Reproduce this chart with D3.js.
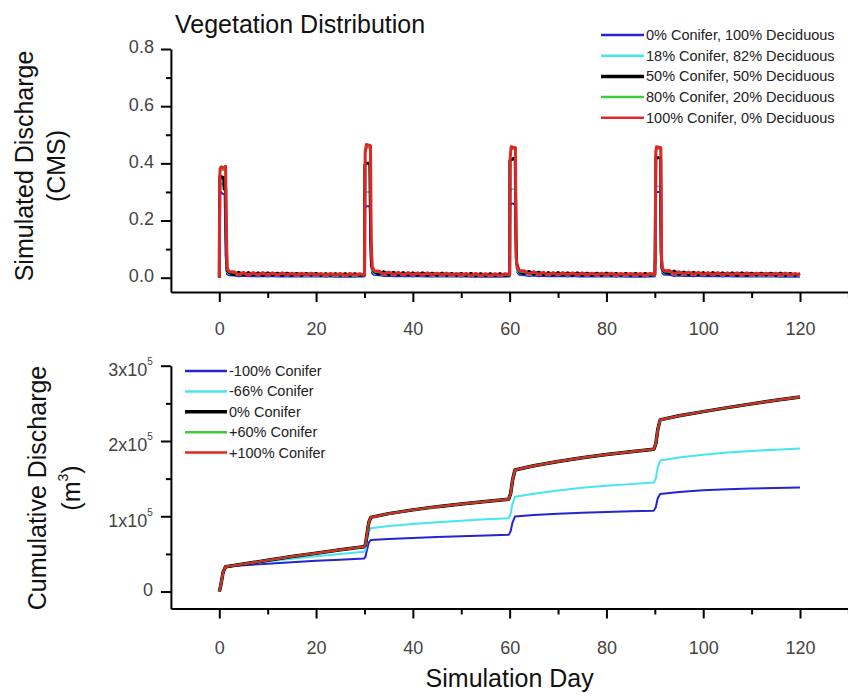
<!DOCTYPE html>
<html><head><meta charset="utf-8">
<script src="https://cdn.jsdelivr.net/npm/d3@7/dist/d3.min.js"></script>
<style>
html,body{margin:0;padding:0;background:#fff;}
svg{display:block;font-family:"Liberation Sans",Arial,Helvetica,sans-serif;}
</style></head>
<body><svg id="c" width="848" height="696"></svg>
<script>
// ---------- DATA ----------
const title = "Vegetation Distribution";
const topLegend = ["0% Conifer, 100% Deciduous","18% Conifer, 82% Deciduous","50% Conifer, 50% Deciduous","80% Conifer, 20% Deciduous","100% Conifer, 0% Deciduous"];
const bottomLegend = ["-100% Conifer","-66% Conifer","0% Conifer","+60% Conifer","+100% Conifer"];
const seriesColors = ["#2424d0","#44e6f0","#000000","#3ccc3c","#e02626"];
const xMajorTicks = [0,20,40,60,80,100,120];
const xMinorTicks = [10,30,50,70,90,110,130];
const topYMajor = [0,0.2,0.4,0.6,0.8];
const topYMinor = [0.1,0.3,0.5,0.7];
const botYMajor = [0,100000,200000,300000];
const botYMinor = [50000,150000,250000];
const botYLabels = ["0","1x10","2x10","3x10"];

// daily base flow, L/s (null = event day, given in event lists)
const blueBase = [null,null,null,
 8,5,7,5,6,4,6,4,6,4,5,4,5,4,5,4,5,4,5,3,5,3,4,3,4,3,4,
 null,null,null,
 9,6,7,5,6,5,6,4,6,4,5,4,5,4,5,4,5,3,5,3,4,3,4,3,4,3,4,
 null,null,null,
 9,6,8,5,7,5,6,5,6,4,6,4,5,4,5,4,5,4,5,3,5,3,4,3,4,3,4,
 null,null,null,
 10,6,8,6,7,5,7,5,6,5,6,4,6,4,5,4,5,4,5,4,5,4,4,3,4,3,4,3];
const cyanBase = [null,null,null,
 13,9,12,9,11,8,11,8,10,8,10,8,10,7,9,7,9,7,9,7,9,7,8,7,8,7,8,
 null,null,null,
 14,10,12,9,11,9,11,8,10,8,10,8,9,8,9,7,9,7,9,7,8,7,8,7,8,7,8,
 null,null,null,
 15,10,13,9,12,9,11,9,11,8,10,8,10,8,10,8,9,8,9,7,9,7,9,7,9,7,8,
 null,null,null,
 15,11,13,10,12,9,12,9,11,9,11,8,10,8,10,8,10,8,9,8,9,8,9,7,9,7,9,7];
const blackBase = [null,null,null,
 11,19,10,18,10,17,9,17,10,16,9,16,9,15,8,15,9,15,8,14,8,14,8,14,7,14,8,
 null,null,null,
 13,21,11,19,10,18,10,17,9,17,9,16,8,16,8,15,8,15,7,15,7,14,7,14,7,14,7,
 null,null,null,
 14,22,12,20,11,18,10,18,10,17,9,17,9,16,9,16,8,16,8,15,8,15,8,15,7,15,8,
 null,null,null,
 14,23,12,20,11,19,11,18,10,18,10,17,10,17,9,17,9,16,9,16,9,16,8,16,8,15,8,14];
const greenBase = [null,null,null,
 17,12,16,11,16,11,15,11,15,11,14,11,14,10,13,10,13,10,13,10,12,10,12,9,12,9,12,
 null,null,null,
 19,14,17,13,16,12,16,11,15,11,14,11,14,10,13,10,13,10,12,9,12,9,12,9,12,9,11,
 null,null,null,
 20,15,18,13,17,12,16,12,15,12,15,11,14,11,14,10,14,10,13,10,13,10,13,9,13,9,12,
 null,null,null,
 21,15,18,14,17,13,17,12,16,12,15,12,15,11,15,11,14,11,14,11,14,10,13,10,13,10,13,10];
const redBase = [null,null,null,
 21,10,19,9,18,10,18,9,17,10,17,9,16,8,16,9,16,8,15,8,15,8,15,7,15,8,14,
 null,null,null,
 23,12,20,11,19,10,18,10,17,9,17,9,16,8,16,8,15,8,15,7,15,7,14,7,14,7,14,
 null,null,null,
 24,13,21,11,19,11,18,10,18,10,17,9,17,9,16,9,16,8,16,8,15,8,15,8,15,7,15,
 null,null,null,
 25,13,21,12,20,11,19,11,18,10,18,10,17,10,17,9,17,9,16,9,16,9,16,8,16,8,15,8];

// storm events [day, L/s]
const blueEvents = [[0,0],[0.05,140],[0.15,300],[1.1,290],[1.3,80],[1.6,12],[2,9],
 [30,4],[30.1,240],[30.3,250],[31.1,250],[31.3,60],[31.6,15],[32,10],
 [60,4],[60.1,250],[60.3,260],[60.6,260],[61.1,255],[61.3,70],[61.6,18],[62,10],
 [90,4],[90.1,290],[90.3,300],[91.1,300],[91.3,50],[91.6,15],[92,10]];
const cyanEvents = [[0,0],[0.05,150],[0.15,330],[1.2,320],[1.35,100],[1.6,20],[2,14],
 [30,8],[30.1,290],[30.3,300],[31.1,300],[31.3,80],[31.6,25],[32,15],
 [60,8],[60.1,300],[60.3,310],[61.1,310],[61.3,60],[61.6,22],[62,16],
 [90,9],[90.1,310],[90.3,320],[91.1,320],[91.3,55],[91.6,22],[92,16]];
const blackEvents = [[0,0],[0.03,160],[0.12,355],[0.9,350],[1.0,310],[1.3,318],[1.4,150],[1.6,25],[2,18],
 [30,10],[30.03,200],[30.08,395],[30.3,400],[31.1,400],[31.3,130],[31.5,40],[32,20],
 [60,10],[60.05,410],[61.15,420],[61.3,160],[61.45,50],[62,20],
 [90,12],[90.05,60],[90.2,420],[91.2,420],[91.3,90],[91.5,30],[92,20]];
const greenEvents = [[0,0],[0.05,160],[0.15,375],[1.3,378],[1.45,160],[1.6,30],[2,20],
 [30,10],[30.1,430],[30.4,455],[31.2,455],[31.35,110],[31.6,35],[32,22],
 [60,10],[60.1,430],[60.3,450],[61.2,450],[61.35,65],[61.6,30],[62,22],
 [90,11],[90.15,430],[90.35,450],[91.2,450],[91.35,60],[91.6,30],[92,22]];
const redEvents = [[0,0],[0.05,160],[0.15,380],[0.4,388],[0.8,384],[1.3,390],[1.45,200],[1.6,35],[2,22],
 [30,10],[30.05,60],[30.15,440],[30.4,466],[31.25,462],[31.4,120],[31.6,40],[32,24],
 [60,11],[60.05,120],[60.12,420],[60.3,458],[61.2,455],[61.35,70],[61.6,32],[62,24],
 [90,12],[90.05,50],[90.12,60],[90.2,440],[90.35,458],[91.25,455],[91.4,60],[91.6,32],[92,24]];

// cumulative discharge [day, m3]
const blueCum = [[0,0],[0.3,8000],[0.8,26000],[1.3,33000],[3,33900],[5,35000],[10,37000],[15,39000],[20,40800],[25,42400],[29.9,44000],[30.2,46000],[30.5,55000],[30.9,65000],[31.3,68500],[35,69800],[40,71200],[45,72400],[50,73400],[55,74400],[59.8,75300],[60.2,80000],[60.6,92000],[61.1,99600],[65,101800],[70,103500],[75,104800],[80,105800],[85,106700],[89.8,107500],[90.2,112000],[90.6,124000],[91.1,129700],[95,132300],[100,134600],[105,136000],[110,136900],[115,137700],[120,138300]];
const cyanCum = [[0,0],[0.3,8000],[0.8,26000],[1.3,33000],[3,34400],[5,36000],[10,39800],[15,43500],[20,46800],[25,50000],[29.9,53000],[30.2,55000],[30.5,66000],[30.9,79000],[31.3,84000],[35,87000],[40,89800],[45,92200],[50,94200],[55,95900],[59.8,97400],[60.2,103000],[60.6,117000],[61.1,126000],[65,130000],[70,134300],[75,137800],[80,140500],[85,142700],[89.8,144700],[90.2,150000],[90.6,165000],[91.1,174000],[95,178000],[100,181800],[105,184600],[110,186800],[115,188500],[120,190000]];
const blackCum = [[0,0],[0.3,8000],[0.8,26000],[1.3,33000],[3,34500],[5,36500],[10,41500],[15,46500],[20,51000],[25,55500],[29.9,59500],[30.2,62000],[30.5,75000],[30.9,92000],[31.3,98500],[35,103500],[40,108500],[45,112800],[50,116300],[55,119600],[59.8,122700],[60.2,130000],[60.6,148000],[61.1,161500],[65,167000],[70,172800],[75,177800],[80,182000],[85,185600],[89.8,189000],[90.2,196000],[90.6,215000],[91.1,228000],[95,233500],[100,239000],[105,244300],[110,249300],[115,254000],[120,258500]];
const greenCum = [[0,0],[0.3,8000],[0.8,26000],[1.3,33000],[3,34500],[5,36500],[10,41500],[15,46500],[20,51000],[25,55500],[29.9,59500],[30.2,62000],[30.5,75000],[30.9,92000],[31.3,98500],[35,103500],[40,108500],[45,112800],[50,116300],[55,119600],[59.8,122700],[60.2,130000],[60.6,148000],[61.1,161500],[65,167000],[70,172800],[75,177800],[80,182000],[85,185600],[89.8,189000],[90.2,196000],[90.6,215000],[91.1,228000],[95,233500],[100,239000],[105,244300],[110,249300],[115,254000],[120,258500]];
const redCum = [[0,0],[0.3,8000],[0.8,26000],[1.3,33000],[3,34500],[5,36500],[10,41500],[15,46500],[20,51000],[25,55500],[29.9,59500],[30.2,62000],[30.5,75000],[30.9,92000],[31.3,98500],[35,103500],[40,108500],[45,112800],[50,116300],[55,119600],[59.8,122700],[60.2,130000],[60.6,148000],[61.1,161500],[65,167000],[70,172800],[75,177800],[80,182000],[85,185600],[89.8,189000],[90.2,196000],[90.6,215000],[91.1,228000],[95,233500],[100,239000],[105,244300],[110,249300],[115,254000],[120,258500]];

// ---------- DRAW ----------
const svg = d3.select("#c");
const FONT = '"Liberation Sans",Arial,Helvetica,sans-serif';
const x = d3.scaleLinear().domain([-10,130]).range([170.9,848.4]);
const yTop = d3.scaleLinear().domain([-0.05,0.8]).range([292,49]);
const yBot = d3.scaleLinear().domain([-22500,300000]).range([608.5,365.7]);

function flowSeries(base, events){
  const pts = base.map((v,i)=>[i,v]).filter(d=>d[1]!==null).concat(events);
  pts.sort((a,b)=>a[0]-b[0]);
  return pts.map(d=>[d[0], d[1]/1000]);
}
const flows = [flowSeries(blueBase,blueEvents),flowSeries(cyanBase,cyanEvents),flowSeries(blackBase,blackEvents),flowSeries(greenBase,greenEvents),flowSeries(redBase,redEvents)];
const cums = [blueCum,cyanCum,blackCum,greenCum,redCum];

function drawAxes(yScale, yMajor, yMinor, axisY, isTop){
  const g = svg.append("g");
  const xa = g.append("g").attr("transform",`translate(0,${axisY})`)
    .call(d3.axisBottom(x).tickValues(xMajorTicks).tickSize(10).tickSizeOuter(0).tickPadding(isTop?20:23));
  xa.select(".domain").attr("stroke","#000").attr("stroke-width",2);
  xa.selectAll(".tick line").attr("stroke","#000").attr("stroke-width",2);
  xa.selectAll(".tick text").attr("font-size",18).attr("font-family",FONT).attr("fill","#444");
  const xm = g.append("g").attr("transform",`translate(0,${axisY})`)
    .call(d3.axisBottom(x).tickValues(xMinorTicks).tickSize(6).tickSizeOuter(0).tickFormat(""));
  xm.select(".domain").remove();
  xm.selectAll(".tick line").attr("stroke","#000").attr("stroke-width",2);
  const ya = g.append("g").attr("transform",`translate(${x(-10)},0)`)
    .call(d3.axisLeft(yScale).tickValues(yMajor).tickSize(10).tickSizeOuter(0)
      .tickFormat(isTop ? d3.format(".1f") : ()=>""));
  ya.select(".domain").attr("stroke","#000").attr("stroke-width",2);
  ya.selectAll(".tick line").attr("stroke","#000").attr("stroke-width",2);
  ya.selectAll(".tick text").attr("font-size",18).attr("font-family",FONT).attr("fill","#444")
    .attr("x",-17).attr("dy","0.22em");
  const ym = g.append("g").attr("transform",`translate(${x(-10)},0)`)
    .call(d3.axisLeft(yScale).tickValues(yMinor).tickSize(5).tickSizeOuter(0).tickFormat(""));
  ym.select(".domain").remove();
  ym.selectAll(".tick line").attr("stroke","#000").attr("stroke-width",2);
  if(!isTop){
    const t = g.append("g").selectAll("text").data(yMajor).join("text")
      .attr("font-family",FONT).attr("fill","#444").attr("text-anchor","end")
      .attr("x", x(-10)-18)
      .attr("y", (d)=> d===0 ? yBot(d)+4.5 : yBot(d)+10.5)
      .attr("font-size",18);
    t.append("tspan").text((d,i)=>botYLabels[i]);
    t.filter(d=>d!==0).append("tspan").attr("font-size",10).attr("dy",-11).text("5");
  }
}

drawAxes(yTop, topYMajor, topYMinor, 292, true);
drawAxes(yBot, botYMajor, botYMinor, 608.5, false);

const lineTop = d3.line().x(d=>x(d[0])).y(d=>yTop(d[1]));
svg.append("g").selectAll("path").data(flows).join("path")
  .attr("d",lineTop).attr("fill","none")
  .attr("stroke",(d,i)=>seriesColors[i])
  .attr("stroke-width",(d,i)=>[2,2,3,2,3][i])
  .attr("stroke-linejoin","round");

const lineBot = d3.line().x(d=>x(d[0])).y(d=>yBot(d[1]));
svg.append("g").selectAll("path").data(cums).join("path")
  .attr("d",lineBot).attr("fill","none")
  .attr("stroke",(d,i)=>seriesColors[i])
  .attr("stroke-width",(d,i)=>[2,2,3.5,2,2][i])
  .attr("stroke-linejoin","round");

function legend(labels, x0, x1, tx, y0, dy){
  const g = svg.append("g");
  labels.forEach((lab,i)=>{
    const yy = y0 + i*dy;
    g.append("line").attr("x1",x0).attr("x2",x1).attr("y1",yy).attr("y2",yy)
      .attr("stroke",seriesColors[i]).attr("stroke-width",i===2?3.5:2.5);
    g.append("text").attr("x",tx).attr("y",yy+5).attr("font-size",14.5)
      .attr("font-family",FONT).attr("fill","#222").text(lab);
  });
}
legend(topLegend, 601, 644, 646, 35, 20.7);
legend(bottomLegend, 185, 227, 229, 371, 20.4);

svg.append("text").attr("x",175).attr("y",33).attr("font-size",25).attr("font-family",FONT)
  .attr("fill","#111").text(title);
svg.append("text").attr("transform","translate(33,166) rotate(-90)").attr("text-anchor","middle")
  .attr("font-size",25).attr("font-family",FONT).attr("fill","#111").text("Simulated Discharge");
svg.append("text").attr("transform","translate(65,166) rotate(-90)").attr("text-anchor","middle")
  .attr("font-size",25).attr("font-family",FONT).attr("fill","#111").text("(CMS)");
svg.append("text").attr("transform","translate(46,488) rotate(-90)").attr("text-anchor","middle")
  .attr("font-size",25).attr("font-family",FONT).attr("fill","#111").text("Cumulative Discharge");
const m3 = svg.append("text").attr("transform","translate(80,488) rotate(-90)").attr("text-anchor","middle")
  .attr("font-size",25).attr("font-family",FONT).attr("fill","#111");
m3.append("tspan").text("(m");
m3.append("tspan").attr("font-size",14).attr("dy",-12).text("3");
m3.append("tspan").attr("dy",12).text(")");
svg.append("text").attr("x",x(60)).attr("y",687).attr("text-anchor","middle")
  .attr("font-size",25).attr("font-family",FONT).attr("fill","#111").text("Simulation Day");
</script>
</body></html>
